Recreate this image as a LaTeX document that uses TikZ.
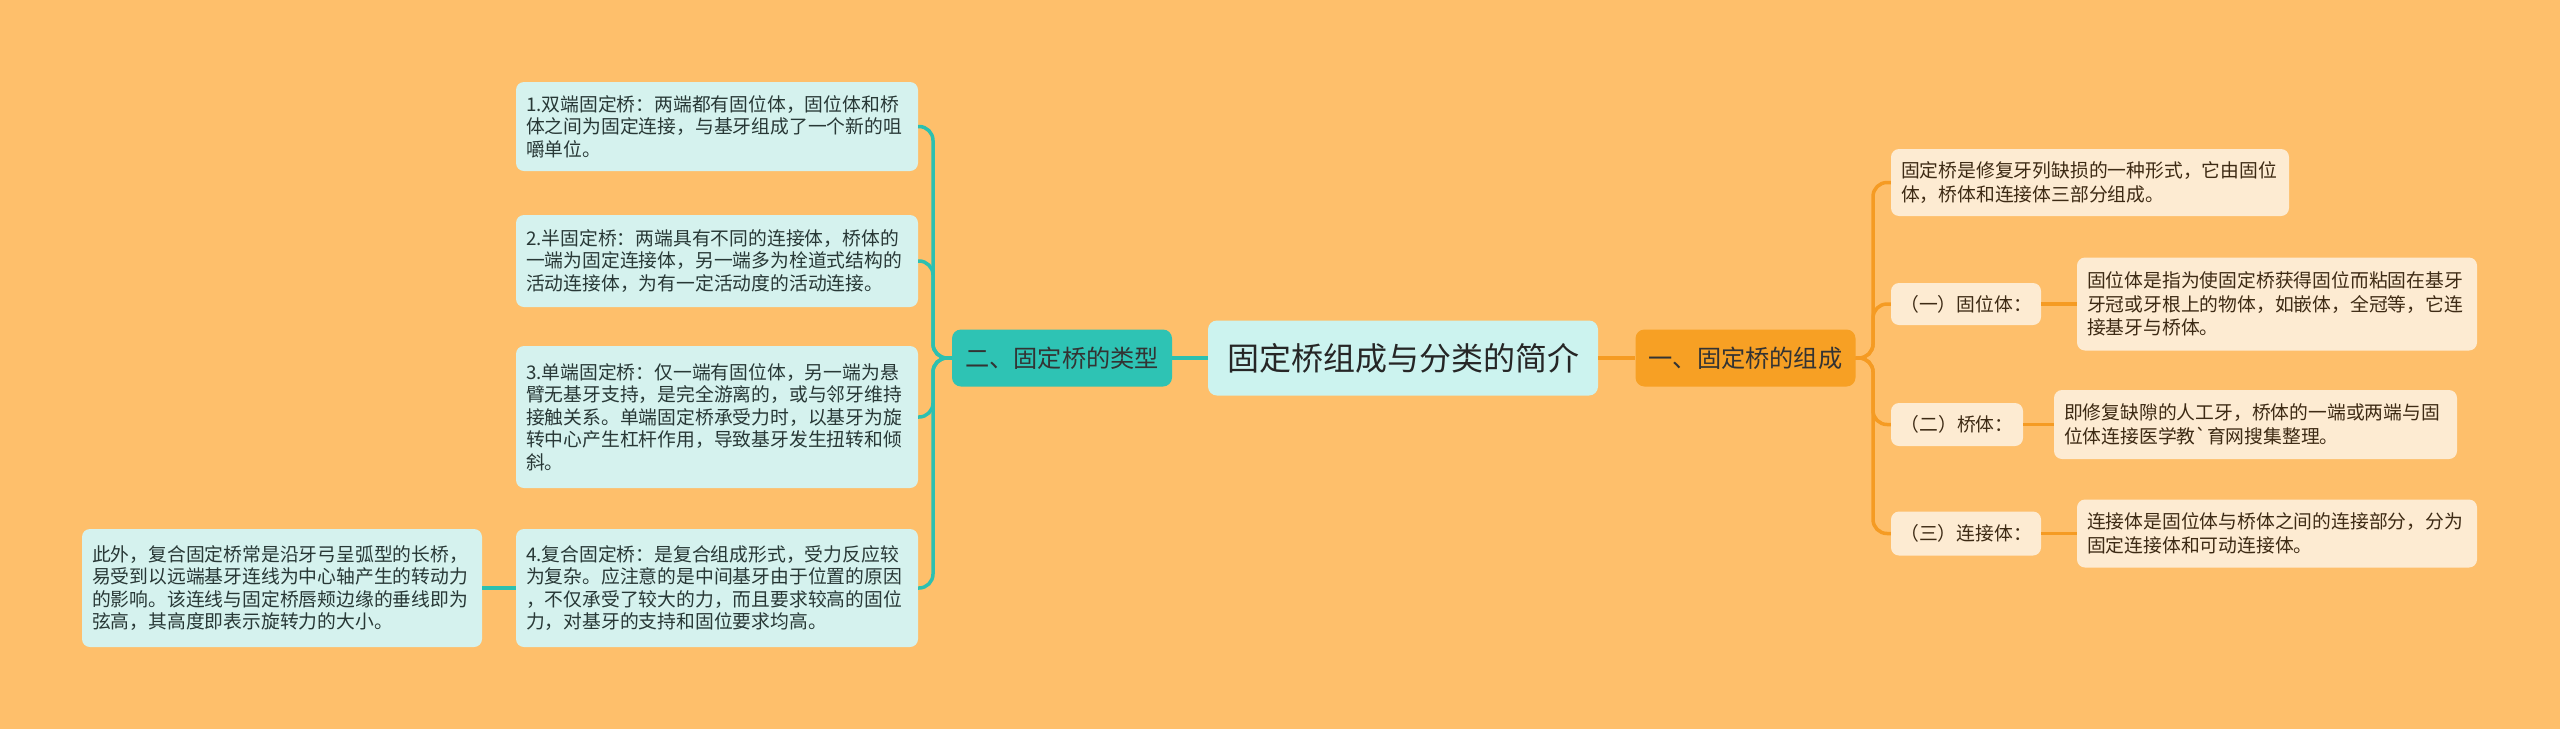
\documentclass[tikz,border=0pt]{standalone}
\usepackage{fontspec}
\newfontfamily\cjk{Noto Sans CJK SC}
\definecolor{bg}{HTML}{FEBF6B}
\definecolor{leftfill}{HTML}{D5F2EE}
\definecolor{centerfill}{HTML}{CCF3EF}
\definecolor{teal}{HTML}{2CC0B0}
\definecolor{tealnode}{HTML}{2EC3B4}
\definecolor{orangeline}{HTML}{F59B23}
\definecolor{orangenode}{HTML}{F7A024}
\definecolor{rightfill}{HTML}{FDEBD2}
\definecolor{lefttext}{HTML}{283836}
\definecolor{righttext}{HTML}{3D2A14}
\tikzset{
  box/.style={rounded corners=8pt, inner xsep=10pt, inner ysep=6pt, align=left},
  leftbox/.style={box, fill=leftfill, text=lefttext, font=\cjk\fontsize{18.8}{22.5}\selectfont},
  rightbox/.style={box, fill=rightfill, text=righttext, font=\cjk\fontsize{18.8}{23.5}\selectfont},
  labelbox/.style={rounded corners=8pt, fill=rightfill, text=righttext, align=center, font=\cjk\fontsize{18.8}{23}\selectfont},
  tealline/.style={draw=teal, line width=3.5pt, rounded corners=14pt},
  orangelinestyle/.style={draw=orangeline, line width=3.5pt, rounded corners=14pt},
}
\begin{document}
\begin{tikzpicture}[x=1pt,y=-1pt]
\fill[bg] (0,0) rectangle (2560,729);
\useasboundingbox (0,0) rectangle (2560,729);

% central
\node[rounded corners=9pt, fill=centerfill, text=black!85, font=\cjk\fontsize{32}{36}\selectfont,
  minimum width=390pt, minimum height=75pt] (center) at (1403,358) {固定桥组成与分类的简介};

% left branch
\node[rounded corners=9pt, fill=tealnode, text=black!80, font=\cjk\fontsize{24.2}{28}\selectfont,
  minimum width=220pt, minimum height=57pt] (types) at (1062,358) {二、固定桥的类型};

\node[leftbox, text width=382pt, minimum height=89pt] (t1) at (717,126.5)
  {1.双端固定桥：两端都有固位体，固位体和桥\\体之间为固定连接，与基牙组成了一个新的咀\\嚼单位。};
\node[leftbox, text width=382pt, minimum height=92pt] (t2) at (717,261)
  {2.半固定桥：两端具有不同的连接体，桥体的\\一端为固定连接体，另一端多为栓道式结构的\\活动连接体，为有一定活动度的活动连接。};
\node[leftbox, text width=382pt, minimum height=142pt] (t3) at (717,417)
  {3.单端固定桥：仅一端有固位体，另一端为悬\\臂无基牙支持，是完全游离的，或与邻牙维持\\接触关系。单端固定桥承受力时，以基牙为旋\\转中心产生杠杆作用，导致基牙发生扭转和倾\\斜。};
\node[leftbox, text width=382pt, minimum height=118pt] (t4) at (717,588)
  {4.复合固定桥：是复合组成形式，受力反应较\\为复杂。应注意的是中间基牙由于位置的原因\\，不仅承受了较大的力，而且要求较高的固位\\力，对基牙的支持和固位要求均高。};
\node[leftbox, text width=380pt, minimum height=118pt] (t5) at (282,588)
  {此外，复合固定桥常是沿牙弓呈弧型的长桥，\\易受到以远端基牙连线为中心轴产生的转动力\\的影响。该连线与固定桥唇颊边缘的垂线即为\\弦高，其高度即表示旋转力的大小。};

% right branch
\node[rounded corners=9pt, fill=orangenode, text=black!80, font=\cjk\fontsize{24.2}{28}\selectfont,
  minimum width=220pt, minimum height=57pt] (parts) at (1745.5,358) {一、固定桥的组成};

\node[rightbox, text width=378pt, minimum height=67pt] (p0) at (2090,182.5)
  {固定桥是修复牙列缺损的一种形式，它由固位\\体，桥体和连接体三部分组成。};
\node[labelbox, minimum width=150pt, minimum height=42pt] (l1) at (1966,304) {（一）固位体：};
\node[labelbox, minimum width=132pt, minimum height=43pt] (l2) at (1957,424.5) {（二）桥体：};
\node[labelbox, minimum width=150pt, minimum height=44pt] (l3) at (1966,533.5) {（三）连接体：};

\node[rightbox, text width=380pt, minimum height=93pt] (d1) at (2277,304)
  {固位体是指为使固定桥获得固位而粘固在基牙\\牙冠或牙根上的物体，如嵌体，全冠等，它连\\接基牙与桥体。};
\node[rightbox, text width=383pt, minimum height=69pt] (d2) at (2255.5,424.5)
  {即修复缺隙的人工牙，桥体的一端或两端与固\\位体连接医学教`育网搜集整理。};
\node[rightbox, text width=380pt, minimum height=68pt] (d3) at (2277,533.5)
  {连接体是固位体与桥体之间的连接部分，分为\\固定连接体和可动连接体。};

% connectors left
\coordinate (ltrunk) at (933,358);
\draw[tealline] (center.west) -- (types.east);
\foreach \n in {t1,t2,t3,t4}{
  \draw[tealline] (types.west) -- (ltrunk) |- (\n.east);
}
\draw[tealline] (t4.west) -- (t5.east);

% connectors right
\coordinate (rtrunk) at (1873,358);
\draw[orangelinestyle] (center.east) -- (parts.west);
\foreach \n in {p0,l1,l2,l3}{
  \draw[orangelinestyle] (parts.east) -- (rtrunk) |- (\n.west);
}
\draw[orangelinestyle] (l1.east) -- (d1.west);
\draw[orangelinestyle] (l2.east) -- (d2.west);
\draw[orangelinestyle] (l3.east) -- (d3.west);
\end{tikzpicture}
\end{document}
